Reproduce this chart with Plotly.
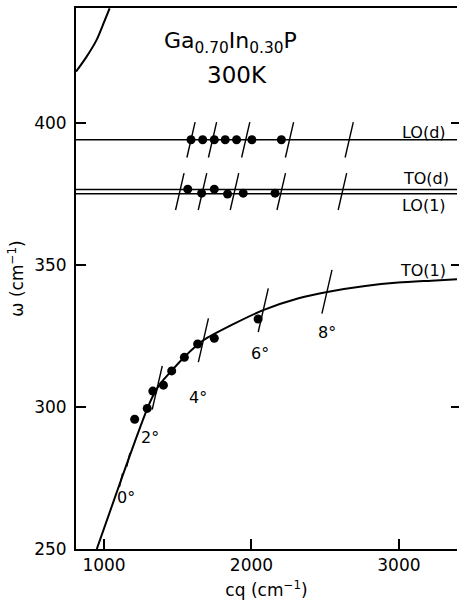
import plotly.graph_objects as go

# ---- data ----
curve_cq = [951, 1100, 1200, 1295, 1342, 1383, 1457, 1545, 1632, 1673, 1870, 2084, 2320, 2523, 2771, 2995, 3220, 3394]
curve_w = [250.0, 272.0, 286.5, 299.6, 304.9, 308.3, 312.7, 317.6, 321.8, 323.5, 329.0, 334.2, 338.3, 340.6, 342.6, 343.8, 344.5, 345.0]

upper_cq = [810, 881, 949, 992, 1038]
upper_w = [418.1, 423.3, 429.2, 434.5, 440.4]

mode_names = ["LO(d)", "TO(d)", "LO(1)", "TO(1)"]
mode_w = [394.1, 376.6, 375.1]

to1_pts_cq = [1208, 1293, 1331, 1403, 1459, 1545, 1635, 1748, 2045]
to1_pts_w = [295.7, 299.5, 305.6, 307.7, 312.7, 317.5, 322.2, 324.2, 331.0]

lod_pts_cq = [1590, 1669, 1748, 1822, 1899, 2003, 2203]
lod_pts_w = [394.1, 394.1, 394.1, 394.1, 394.1, 394.1, 394.1]

tod_pts_cq = [1568, 1662, 1748, 1838, 1944, 2160]
tod_pts_w = [376.7, 375.3, 376.7, 375.0, 375.3, 375.3]

# angle marks (slashes)
lod_mark_cq = [1590, 1736, 1961, 2258, 2663]
tod_mark_cq = [1514, 1668, 1885, 2202, 2617]
curve_mark_cq = [1361, 1674, 2080, 2512]
curve_mark_w = [306.8, 323.5, 334.1, 340.6]
small_mark_cq = [1115, 1165]
small_mark_w = [274.2, 281.4]

angle_labels = ["0°", "2°", "4°", "6°", "8°"]
angle_lab_cq = [1147, 1309, 1640, 2058, 2510]
angle_lab_w = [268.0, 289.4, 303.5, 318.7, 326.1]

x_ticks = [1000, 2000, 3000]
y_ticks = [250, 300, 350, 400]
right_ticks = [300, 350, 400]

X_RANGE = [810, 3394]
Y_RANGE = [250, 440.5]

FONT = "DejaVu Sans"
BLACK = "black"

fig = go.Figure()

fig.add_trace(go.Scatter(x=curve_cq, y=curve_w, mode="lines",
                         line=dict(color=BLACK, width=2, shape="spline", smoothing=0.8),
                         showlegend=False, hoverinfo="skip"))
# upper branch drawn against the right-hand tick-only axis (same range)
fig.add_trace(go.Scatter(x=upper_cq, y=upper_w, mode="lines", yaxis="y2",
                         line=dict(color=BLACK, width=2, shape="spline", smoothing=1.0),
                         showlegend=False, hoverinfo="skip"))

for w in mode_w:
    fig.add_hline(y=w, line=dict(color=BLACK, width=1.6))

dot = dict(color=BLACK, size=9, symbol="circle")
for xs, ys in [(to1_pts_cq, to1_pts_w), (lod_pts_cq, lod_pts_w), (tod_pts_cq, tod_pts_w)]:
    fig.add_trace(go.Scatter(x=xs, y=ys, mode="markers", marker=dot, showlegend=False))

def slash(xs, ys, size):
    fig.add_trace(go.Scatter(
        x=xs, y=ys, mode="markers", showlegend=False, hoverinfo="skip",
        marker=dict(symbol="line-ns", size=size, angle=13,
                    line=dict(color=BLACK, width=1.4))))

slash(lod_mark_cq, [mode_w[0]] * len(lod_mark_cq), 26)
slash(tod_mark_cq, [(mode_w[1] + mode_w[2]) / 2] * len(tod_mark_cq), 27)
slash(curve_mark_cq, curve_mark_w, 32)
slash(small_mark_cq, small_mark_w, 10)

ann = []
label_pos = [(3172, 396.8), (3182, 380.3), (3172, 370.8), (3162, 347.9)]
for name, (x, y) in zip(mode_names, label_pos):
    ann.append(dict(x=x, y=y, text=name, showarrow=False, xanchor="center", yanchor="middle",
                    font=dict(family=FONT, size=16, color=BLACK)))
for t, x, y in zip(angle_labels, angle_lab_cq, angle_lab_w):
    ann.append(dict(x=x, y=y, text=t, showarrow=False, xanchor="center", yanchor="middle",
                    font=dict(family=FONT, size=16, color=BLACK)))
ann.append(dict(x=1859, y=428.5, text="Ga<sub>0.70</sub>In<sub>0.30</sub>P", showarrow=False,
                xanchor="center", yanchor="middle", font=dict(family=FONT, size=22, color=BLACK)))
ann.append(dict(x=1900, y=416.9, text="300K", showarrow=False,
                xanchor="center", yanchor="middle", font=dict(family=FONT, size=23, color=BLACK)))

fig.update_layout(
    width=459, height=600,
    margin=dict(l=76, r=0, t=8, b=51),
    paper_bgcolor="white", plot_bgcolor="white",
    font=dict(family=FONT, size=17, color=BLACK),
    annotations=ann,
    xaxis=dict(range=X_RANGE, tickvals=x_ticks, ticks="inside", ticklen=10, tickwidth=1.5,
               tickcolor=BLACK, showline=True, linecolor=BLACK, linewidth=2, mirror=True,
               showgrid=False, zeroline=False,
               title=dict(text="cq (cm<sup>−1</sup>)", font=dict(size=17), standoff=11)),
    yaxis=dict(range=Y_RANGE, tickvals=y_ticks, ticks="inside", ticklen=10, tickwidth=1.5,
               tickcolor=BLACK, showline=True, linecolor=BLACK, linewidth=2,
               showgrid=False, zeroline=False, ticklabelstandoff=4,
               title=dict(text="ω (cm<sup>−1</sup>)", font=dict(size=17), standoff=6)),
    yaxis2=dict(range=Y_RANGE, overlaying="y", side="right", anchor="free", position=0.982,
                tickvals=right_ticks, ticks="outside", ticklen=9, tickwidth=1.5, tickcolor=BLACK,
                showticklabels=False, showline=False, showgrid=False, zeroline=False),
)

fig.write_html("out.html")
